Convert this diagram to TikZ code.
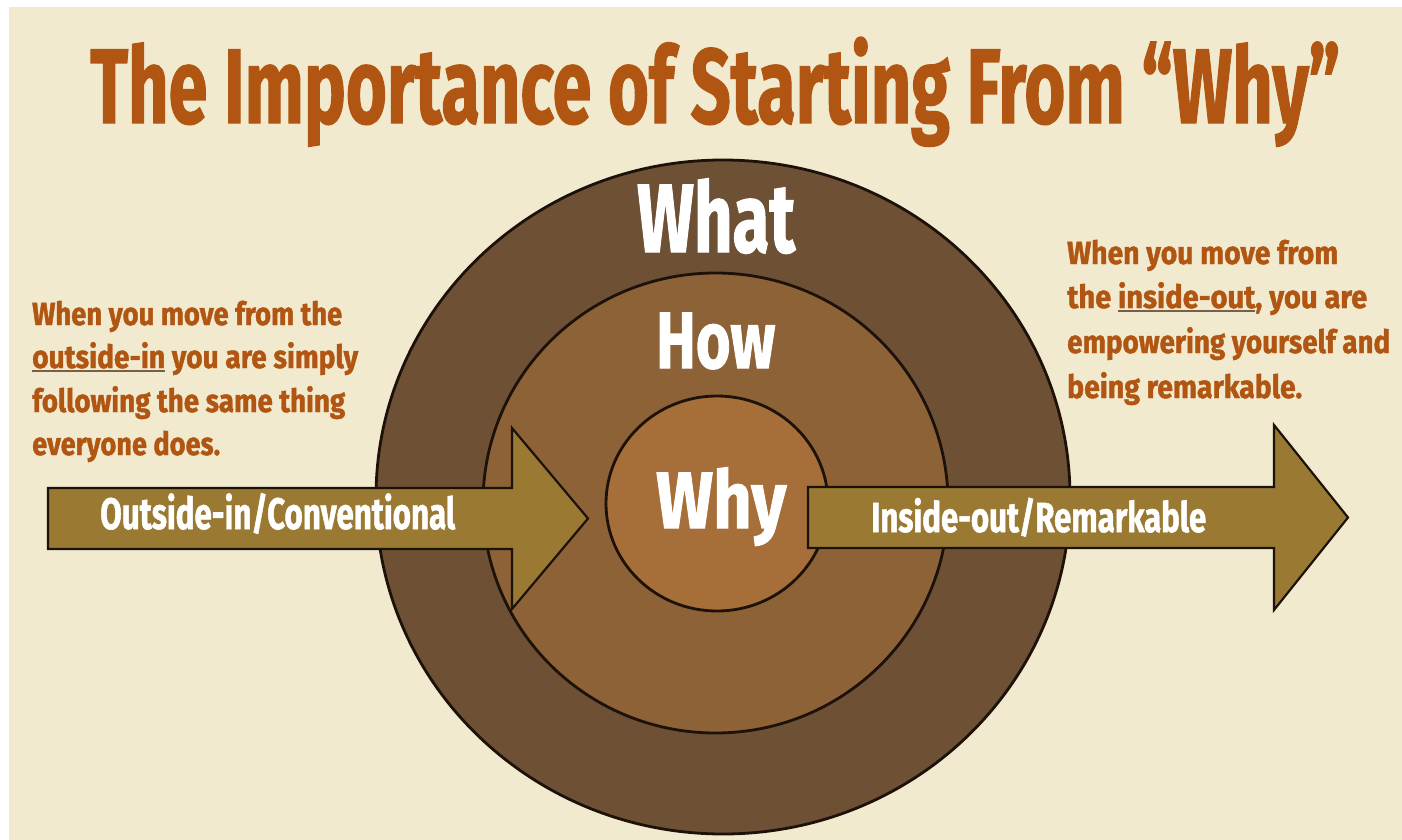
\documentclass[tikz,border=0pt]{standalone}
\usepackage{fontspec}
\usepackage{graphicx}
\usetikzlibrary{shapes.geometric}
\newfontfamily\gfont[BoldFeatures={FakeBold=1.4}]{Fira Sans}
\definecolor{bg}{RGB}{242,234,207}
\definecolor{txtc}{RGB}{176,86,18}
\definecolor{outerc}{RGB}{110,80,52}
\definecolor{midc}{RGB}{142,98,55}
\definecolor{innerc}{RGB}{166,110,56}
\definecolor{arrc}{RGB}{154,122,50}
\definecolor{edgec}{RGB}{28,18,10}
\definecolor{ulc}{RGB}{120,95,75}
\newcommand\fitw[3]{\resizebox{#1pt}{\height}{\fontsize{#2}{#2}\selectfont\gfont\bfseries #3}}
\newcommand\myul[1]{\setbox0\hbox{#1}\rlap{\color{ulc}\rule[-3.5pt]{\wd0}{1.2pt}}\box0\relax}
\tikzset{
  ring/.style={ellipse, draw=edgec, line width=2.8pt, inner sep=0pt},
  bigarrow/.style={draw=edgec, line width=2.2pt, fill=arrc, line join=miter},
  txt/.style={anchor=base west, inner sep=0pt, text=txtc},
  wtxt/.style={anchor=base west, inner sep=0pt, text=white},
}
\begin{document}
\begin{tikzpicture}[x=1pt,y=-1pt]
\useasboundingbox (0,0) rectangle (1402,840);
\fill[white] (0,0) rectangle (1402,840);
\fill[bg] (9,7) rectangle (1402,840);

% title
\node[txt] (title) at (90,123) {\fitw{1250}{106}{The Importance of Starting From “Why”}};

% circles
\node[ring, fill=outerc, minimum width=694pt, minimum height=674pt] (outer) at (723,497) {};
\node[ring, fill=midc, minimum width=465pt, minimum height=460pt] (middle) at (715.5,503) {};
\node[ring, fill=innerc, minimum width=222pt, minimum height=215pt] (inner) at (717,503.5) {};

% arrows
\draw[bigarrow] (48,488) -- (512,488) -- (512,428) -- (588,518.5) -- (512,609) -- (512,549) -- (48,549) -- cycle;
\draw[bigarrow] (808,487) -- (1274,487) -- (1274,425) -- (1348,517.5) -- (1274,610) -- (1274,548) -- (808,548) -- cycle;

% left paragraph
\node[txt] (l1) at (32,325) {\fitw{310}{32}{When you move from the}};
\node[txt] (l2) at (32,368) {\fitw{326}{32}{\myul{outside-in} you are simply}};
\node[txt] (l3) at (32,412) {\fitw{313}{32}{following the same thing}};
\node[txt] (l4) at (32,455) {\fitw{188}{32}{everyone does.}};

% right paragraph
\node[txt] (r1) at (1067,264) {\fitw{271}{32}{When you move from}};
\node[txt] (r2) at (1067,308) {\fitw{300}{32}{the \myul{inside-out}, you are}};
\node[txt] (r3) at (1067,353) {\fitw{323}{32}{empowering yourself and}};
\node[txt] (r4) at (1067,398) {\fitw{235}{32}{being remarkable.}};

% white labels
\node[wtxt] (what) at (637,252) {\fitw{158}{97}{What}};
\node[wtxt] (how)  at (656,368) {\fitw{119}{80}{How}};
\node[wtxt] (why)  at (656,528) {\fitw{130}{80}{Why}};
\node[wtxt] (conv) at (100,529) {\fitw{355}{44}{Outside-in/Conventional}};
\node[wtxt] (rem)  at (871,532) {\fitw{335}{42}{Inside-out/Remarkable}};
\end{tikzpicture}
\end{document}
